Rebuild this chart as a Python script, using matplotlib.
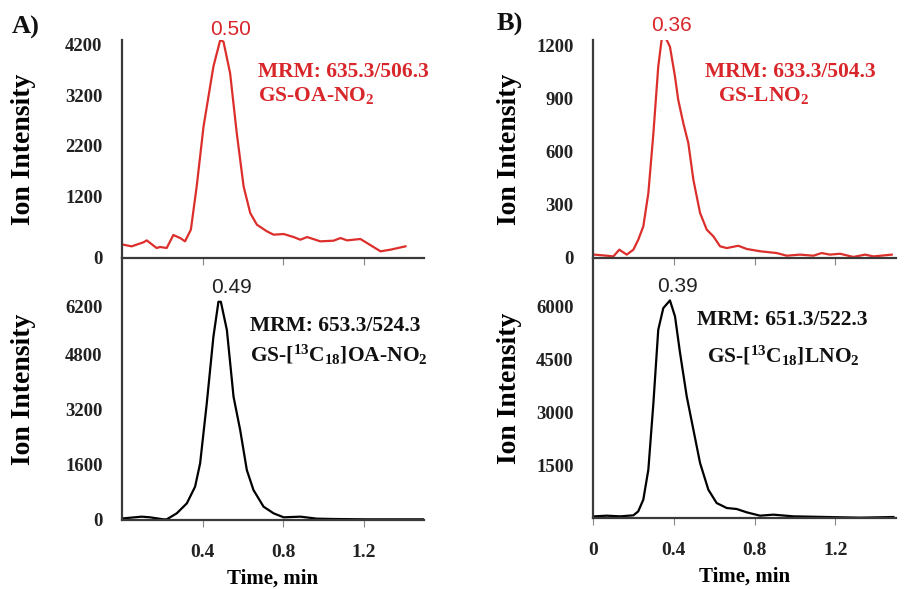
import matplotlib
matplotlib.use("Agg")
import matplotlib.pyplot as plt

plt.rcParams['mathtext.fontset'] = 'custom'
plt.rcParams['mathtext.rm'] = 'Liberation Serif:bold'
plt.rcParams['mathtext.bf'] = 'Liberation Serif:bold'
plt.rcParams['mathtext.it'] = 'Liberation Serif:bold'

# ---------------- data ----------------
# Panel A, upper (GS-OA-NO2, red)
a_up_t = [0.007, 0.048, 0.106, 0.123, 0.172, 0.189, 0.222, 0.255, 0.289, 0.313, 0.342, 0.371,
          0.405, 0.454, 0.488, 0.504, 0.537, 0.570, 0.604, 0.637, 0.670, 0.720, 0.753, 0.803,
          0.852, 0.886, 0.919, 0.985, 1.051, 1.085, 1.118, 1.184, 1.217, 1.284, 1.333, 1.408]
a_up_i = [261, 229, 307, 346, 196, 216, 196, 451, 392, 327, 556, 1405,
          2582, 3758, 4281, 4248, 3627, 2451, 1405, 882, 654, 523, 458, 471,
          412, 359, 412, 327, 340, 392, 346, 373, 294, 131, 163, 229]
# Panel A, lower (GS-[13C18]OA-NO2, black)
a_lo_t = [0.007, 0.098, 0.139, 0.206, 0.222, 0.272, 0.322, 0.363, 0.388, 0.421, 0.454, 0.479,
          0.491, 0.521, 0.554, 0.587, 0.620, 0.653, 0.703, 0.753, 0.803, 0.886, 0.968, 1.051,
          1.217, 1.499]
a_lo_i = [48, 97, 78, 19, 19, 194, 484, 969, 1647, 3391, 5329, 6347,
          6347, 5523, 3585, 2616, 1453, 872, 388, 194, 78, 97, 39, 29,
          19, 19]
# Panel B, upper (GS-LNO2, red)
b_up_t = [0.007, 0.068, 0.101, 0.130, 0.167, 0.200, 0.224, 0.249, 0.274, 0.299, 0.323, 0.340,
          0.361, 0.381, 0.406, 0.422, 0.447, 0.472, 0.497, 0.530, 0.563, 0.596, 0.629, 0.662,
          0.719, 0.761, 0.827, 0.909, 0.959, 1.025, 1.091, 1.132, 1.173, 1.223, 1.289, 1.347,
          1.388, 1.479]
b_up_i = [19, 13, 9, 47, 19, 47, 103, 178, 366, 704, 1080, 1234,
          1239, 1192, 1023, 892, 761, 648, 441, 254, 160, 122, 66, 56,
          69, 51, 38, 28, 13, 19, 13, 28, 19, 24, 6, 19,
          9, 19]
# Panel B, lower (GS-[13C18]LNO2, black)
b_lo_t = [0.007, 0.068, 0.134, 0.200, 0.224, 0.249, 0.274, 0.299, 0.323, 0.348, 0.381, 0.406,
          0.431, 0.464, 0.497, 0.530, 0.571, 0.612, 0.662, 0.711, 0.761, 0.827, 0.893, 0.992,
          1.157, 1.322, 1.487]
b_lo_i = [47, 66, 47, 76, 189, 521, 1373, 3267, 5350, 5966, 6184, 5729,
          4688, 3456, 2509, 1563, 805, 426, 284, 256, 161, 66, 95, 47,
          28, 9, 28]

a_up_yticks = [0, 1200, 2200, 3200, 4200]
a_lo_yticks = [0, 1600, 3200, 4800, 6200]
b_up_yticks = [0, 300, 600, 900, 1200]
b_lo_yticks = [1500, 3000, 4500, 6000]
a_xticks = [0.4, 0.8, 1.2]
b_xticks = [0, 0.4, 0.8, 1.2]
x_ticklabels_a = ['0.4', '0.8', '1.2']
x_ticklabels_b = ['0', '0.4', '0.8', '1.2']

peak_labels = ['0.50', '0.49', '0.36', '0.39']
peak_pos = [(0.54, 4300), (0.545, 6500), (0.39, 1260), (0.42, 6320)]

# ---------------- style ----------------
RED = '#dc2f2c'
RED_TXT = '#d8262a'
AX = '#3a3a3a'
SERIF = 'Liberation Serif'
SANS = 'Liberation Sans'

W, H = 911, 589
fig = plt.figure(figsize=(W / 100, H / 100), dpi=100)


def mk(l, r, top, bot):
    return fig.add_axes([l / W, (H - bot) / H, (r - l) / W, (bot - top) / H])


def style(ax, xlim, ylim, yticks, xticks, xlabels, show_xlabels):
    ax.set_xlim(*xlim)
    ax.set_ylim(*ylim)
    for s in ['top', 'right']:
        ax.spines[s].set_visible(False)
    for s in ['left', 'bottom']:
        ax.spines[s].set_color(AX)
        ax.spines[s].set_linewidth(1.6)
    ax.set_yticks(yticks)
    ax.set_yticklabels([str(v) for v in yticks], fontfamily=SERIF, fontweight='bold', fontsize=13.5)
    ax.tick_params(axis='y', length=0, pad=14, colors='#222222')
    ax.set_xticks(xticks)
    ax.tick_params(axis='x', length=5, width=0.8, color='#888888', direction='out', pad=12,
                   labelcolor='#222222')
    if show_xlabels:
        ax.set_xticklabels(xlabels, fontfamily=SERIF, fontweight='bold', fontsize=14)
    else:
        ax.set_xticklabels([])
    ax.set_ylabel('Ion Intensity', fontfamily=SERIF, fontweight='bold', fontsize=20)
    ax.patch.set_alpha(0)


# Panel A
axA1 = mk(122, 424, 40, 258)
axA1.plot(a_up_t, a_up_i, color=RED, lw=1.6)
style(axA1, (0, 1.5), (0, 4280), a_up_yticks, a_xticks, x_ticklabels_a, False)

axA2 = mk(122, 424, 258, 520)
axA2.plot(a_lo_t, a_lo_i, color='black', lw=1.6)
style(axA2, (0, 1.5), (0, 7620), a_lo_yticks, a_xticks, x_ticklabels_a, True)
axA2.set_xlabel('Time, min', fontfamily=SERIF, fontweight='bold', fontsize=15, labelpad=6)

# Panel B
axB1 = mk(593, 896, 40, 258)
axB1.plot(b_up_t, b_up_i, color=RED, lw=1.6)
style(axB1, (0, 1.5), (0, 1230), b_up_yticks, b_xticks[1:], x_ticklabels_b[1:], False)

axB2 = mk(593, 896, 258, 518)
axB2.plot(b_lo_t, b_lo_i, color='black', lw=1.6)
style(axB2, (0, 1.5), (0, 7390), b_lo_yticks, b_xticks, x_ticklabels_b, True)
axB2.set_xlabel('Time, min', fontfamily=SERIF, fontweight='bold', fontsize=15, labelpad=6)

axA1.yaxis.set_label_coords(-0.285, 0.5)
axA2.yaxis.set_label_coords(-0.285, 0.5)
axB1.yaxis.set_label_coords(-0.235, 0.5)
axB2.yaxis.set_label_coords(-0.235, 0.5)

# peak labels
for ax, lab, (px, py), col in zip((axA1, axA2, axB1, axB2), peak_labels, peak_pos,
                                  (RED_TXT, '#222222', RED_TXT, '#222222')):
    ax.text(px, py, lab, ha='center', va='bottom', fontfamily=SANS, fontsize=15, color=col,
            clip_on=False)

# annotation texts (figure pixel coords)
def ftxt(x, y, s, col, size=15.5, ha='left'):
    fig.text(x / W, 1 - y / H, s, ha=ha, va='center', fontfamily=SERIF, fontweight='bold',
             fontsize=size, color=col)

ftxt(258, 72, 'MRM: 635.3/506.3', RED_TXT)
ftxt(258, 96, r'GS-OA-NO$_{2}$', RED_TXT)
ftxt(705, 72, 'MRM: 633.3/504.3', RED_TXT)
ftxt(718, 95, r'GS-LNO$_{2}$', RED_TXT)
ftxt(250, 326, 'MRM: 653.3/524.3', '#111111')
ftxt(250, 355, r'GS-[$^{13}$C$_{18}$]OA-NO$_{2}$', '#111111')
ftxt(697, 320, 'MRM: 651.3/522.3', '#111111')
ftxt(707, 356, r'GS-[$^{13}$C$_{18}$]LNO$_{2}$', '#111111')

ftxt(12, 27, 'A)', '#111111', size=19)
ftxt(497, 24, 'B)', '#111111', size=19)

fig.savefig('out.png', dpi=100)
